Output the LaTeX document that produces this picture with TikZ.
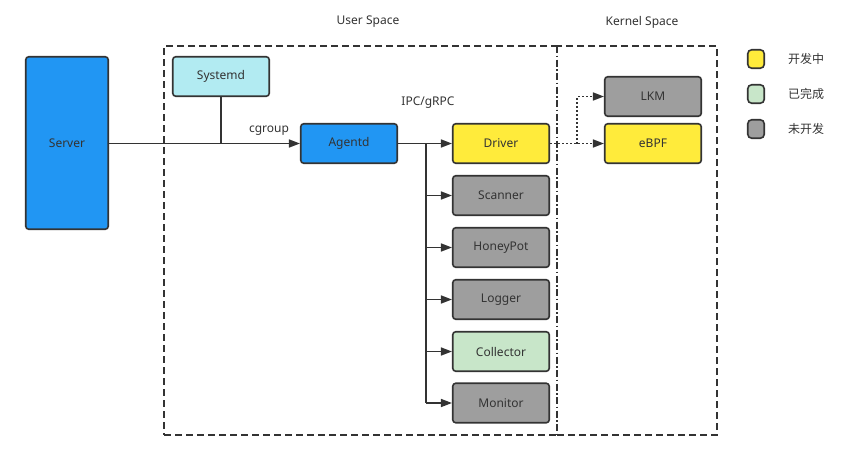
\documentclass[tikz,border=0pt]{standalone}
\usepackage{fontspec}
\setmainfont{Noto Sans}
\newfontfamily\cjk{Noto Sans CJK SC}
\usetikzlibrary{arrows.meta}
\definecolor{blue1}{HTML}{2196F3}
\definecolor{yel}{HTML}{FFEB3B}
\definecolor{gry}{HTML}{9E9E9E}
\definecolor{grn}{HTML}{C8E6C9}
\definecolor{cyn}{HTML}{B2EBF2}
\definecolor{ln}{HTML}{333333}
\definecolor{txt}{HTML}{333333}
\begin{document}
\begin{tikzpicture}[x=1pt,y=-1pt,
  box/.style={draw=ln, line width=1.6pt, rounded corners=3pt, minimum width=96.5pt, minimum height=39.5pt, inner sep=0pt, text=txt, font=\fontsize{12}{14}\selectfont},
  lbl/.style={text=txt, font=\fontsize{12}{14}\selectfont, inner sep=0pt},
  legbox/.style={draw=ln, line width=1.6pt, rounded corners=4pt, minimum width=16.5pt, minimum height=18.5pt, inner sep=0pt},
  region/.style={draw=ln, line width=1.5pt, dash pattern=on 7pt off 4pt, minimum width=#1, minimum height=389pt, inner sep=0pt, outer sep=0pt},
  divider/.style={draw=ln, line width=1.5pt, dash pattern=on 7pt off 2.5pt on 1.5pt off 2.5pt},
  conn/.style={draw=ln, line width=1.6pt, -{Triangle[length=11pt,width=8pt]}},
  plain/.style={draw=ln, line width=1.6pt},
  dotconn/.style={draw=ln, line width=1.6pt, dash pattern=on 1.6pt off 2.4pt, -{Triangle[length=11pt,width=8pt]}}
]
\useasboundingbox (0,0) rectangle (847,461);
% regions
\node[region=393pt] (user) at (360.5,240.5) {};
\node[region=160pt] (kernel) at (637,240.5) {};
\draw[white, line width=3pt] ([yshift=-1pt]user.north east) -- ([yshift=1pt]user.south east);
\draw[divider] (user.north east) -- (user.south east);
\node[lbl] (userlbl) at (368,22) {User Space};
\node[lbl] (kernlbl) at (642,22) {Kernel Space};
% nodes
\node[box, fill=blue1, minimum width=82.5pt, minimum height=172.5pt] (server) at (67,143) {Server};
\node[box, fill=cyn] (systemd) at (221,76.5) {Systemd};
\node[box, fill=blue1] (agentd) at (349,143.5) {Agentd};
\node[box, fill=yel] (driver) at (501,143.5) {Driver};
\node[box, fill=gry] (scanner) at (501,195.5) {Scanner};
\node[box, fill=gry] (honeypot) at (501,247.5) {HoneyPot};
\node[box, fill=gry] (logger) at (501,299.5) {Logger};
\node[box, fill=grn] (collector) at (501,351.5) {Collector};
\node[box, fill=gry] (monitor) at (501,403) {Monitor};
\node[box, fill=gry] (lkm) at (653,96.5) {LKM};
\node[box, fill=yel] (ebpf) at (653,143.5) {eBPF};
\node[lbl] (cgroup) at (269,131) {cgroup};
\node[lbl] (ipc) at (428,103) {IPC/gRPC};
% legend
\node[legbox, fill=yel] (leg1) at (756,59) {};
\node[legbox, fill=grn] (leg2) at (756,94) {};
\node[legbox, fill=gry] (leg3) at (756,129) {};
\node[lbl, font=\cjk\fontsize{12}{14}\selectfont] (leg1t) at (806,59) {开发中};
\node[lbl, font=\cjk\fontsize{12}{14}\selectfont] (leg2t) at (806,94) {已完成};
\node[lbl, font=\cjk\fontsize{12}{14}\selectfont] (leg3t) at (806,129) {未开发};
% connectors
\draw[conn] (server.east |- agentd.west) -- (agentd.west);
\draw[plain] (systemd.south) -- (systemd.south |- agentd.west);
\coordinate (trunk) at (426,143.5);
\draw[plain] (agentd.east) -- (trunk);
\draw[plain] (trunk) -- (trunk |- monitor.west);
\draw[conn] (trunk) -- (driver.west);
\draw[conn] (trunk |- scanner.west) -- (scanner.west);
\draw[conn] (trunk |- honeypot.west) -- (honeypot.west);
\draw[conn] (trunk |- logger.west) -- (logger.west);
\draw[conn] (trunk |- collector.west) -- (collector.west);
\draw[conn] (trunk |- monitor.west) -- (monitor.west);
\coordinate (split) at (577,143.5);
\draw[dotconn] (driver.east) -- (ebpf.west);
\draw[dotconn] (split) |- (lkm.west);
\end{tikzpicture}
\end{document}
